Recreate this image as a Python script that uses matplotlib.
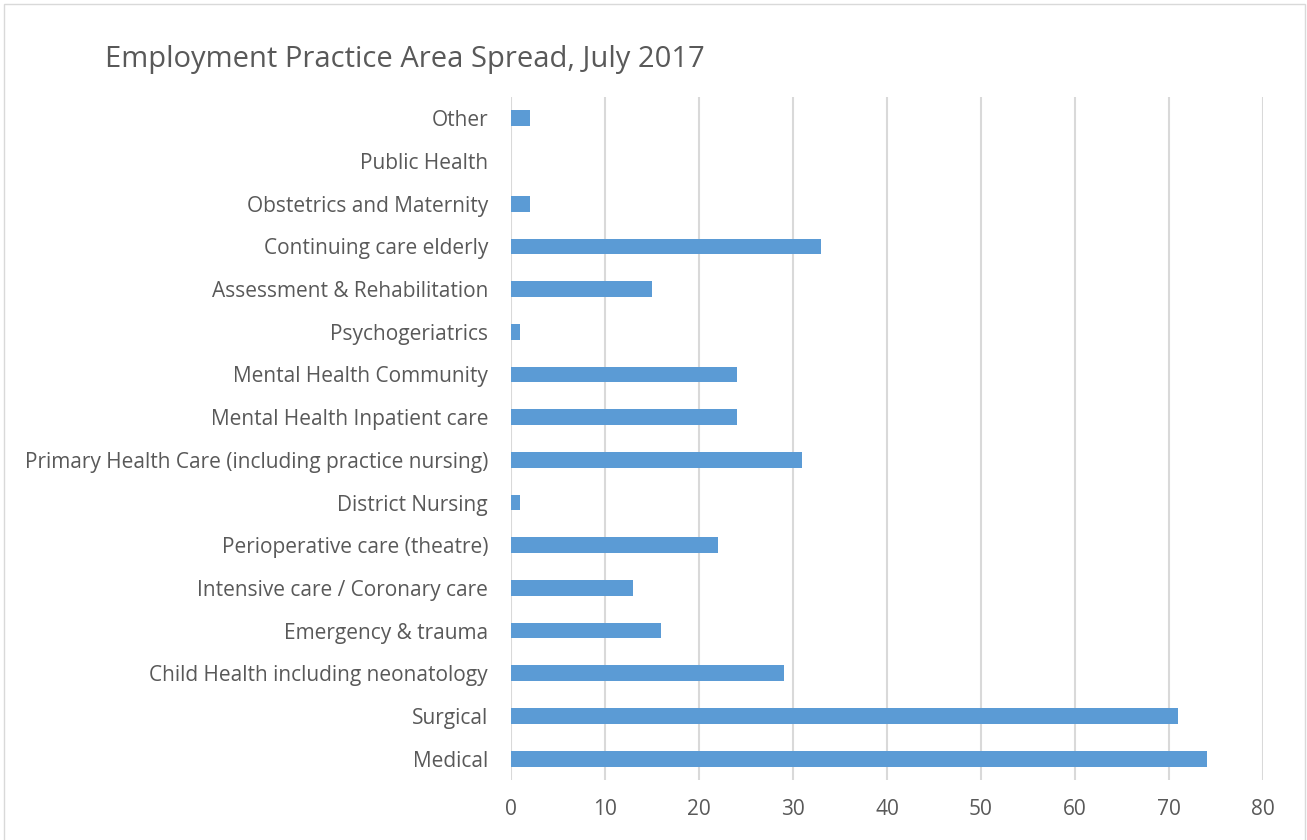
import matplotlib
matplotlib.use("Agg")
import matplotlib.pyplot as plt
from matplotlib.patches import Rectangle

categories = [
    "Medical", "Surgical", "Child Health including neonatology", "Emergency & trauma",
    "Intensive care / Coronary care", "Perioperative care (theatre)", "District Nursing",
    "Primary Health Care (including practice nursing)", "Mental Health Inpatient care",
    "Mental Health Community", "Psychogeriatrics", "Assessment & Rehabilitation",
    "Continuing care elderly", "Obstetrics and Maternity", "Public Health", "Other",
]
values = [74, 71, 29, 16, 13, 22, 1, 31, 24, 24, 1, 15, 33, 2, 0, 2]
xticks = [0, 10, 20, 30, 40, 50, 60, 70, 80]
title = "Employment Practice Area Spread, July 2017"

plt.rcParams['font.family'] = ['Open Sans', 'DejaVu Sans']
text_color = "#595959"

fig = plt.figure(figsize=(13.07, 8.4), dpi=100)
ax = fig.add_axes([511/1307, 1 - 780/840, (1263-511)/1307, (780-97)/840])

pos = list(range(len(categories)))
ax.barh(pos, values, height=0.37, color="#5B9BD5", zorder=3)
ax.set_xlim(0, 80)
ax.set_ylim(-0.5, len(categories) - 0.5)
ax.set_xticks(xticks)
ax.set_xticklabels([str(t) for t in xticks], fontsize=15, color=text_color)
ax.set_yticks(pos)
ax.set_yticklabels(categories, fontsize=15, color=text_color)
ax.tick_params(axis='both', length=0)
ax.tick_params(axis='y', pad=16.5)
ax.tick_params(axis='x', pad=14)
ax.grid(axis='x', color="#D9D9D9", linewidth=1.5, zorder=0)
for s in ax.spines.values():
    s.set_visible(False)

fig.text(105/1307, 1 - 59/840, title, fontsize=21, color=text_color, va='center', ha='left')
fig.patches.append(Rectangle((4/1307, -0.01), (1305-4)/1307, 1 - 4/840 + 0.01,
                             transform=fig.transFigure, fill=False, edgecolor="#D9D9D9", linewidth=1))
fig.savefig("out.png", dpi=100)
